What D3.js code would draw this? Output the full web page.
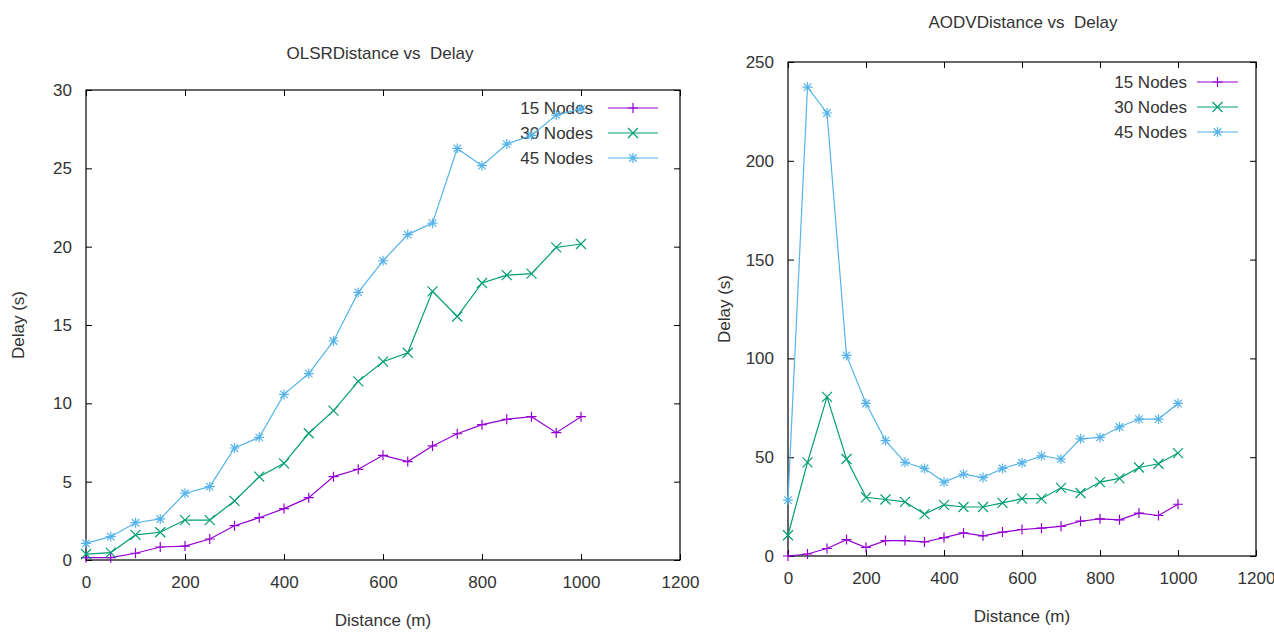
<!DOCTYPE html>
<html>
<head>
<meta charset="utf-8">
<script src="https://cdn.jsdelivr.net/npm/d3@7"></script>
<style>
  body { margin: 0; background: #fff; }
  text { font-family: "Liberation Sans", Arial, sans-serif; fill: #333; white-space: pre; }
</style>
</head>
<body>
<svg width="1274" height="632"></svg>
<script>
var distance = [0, 50, 100, 150, 200, 250, 300, 350, 400, 450, 500, 550, 600, 650, 700, 750, 800, 850, 900, 950, 1000];
var seriesNames = ["15 Nodes", "30 Nodes", "45 Nodes"];
var colors = ["#9400d3", "#009e73", "#56b4e9"];
var symbols = ["plus", "cross", "star"];

var olsr15 = [0.15, 0.15, 0.43, 0.83, 0.89, 1.34, 2.19, 2.7, 3.28, 3.98, 5.32, 5.79, 6.68, 6.28, 7.28, 8.06, 8.64, 8.98, 9.15, 8.13, 9.15];
var olsr30 = [0.38, 0.47, 1.6, 1.77, 2.55, 2.55, 3.77, 5.32, 6.17, 8.09, 9.53, 11.4, 12.66, 13.23, 17.15, 15.54, 17.68, 18.18, 18.28, 19.95, 20.17];
var olsr45 = [1.06, 1.49, 2.38, 2.62, 4.26, 4.68, 7.15, 7.83, 10.57, 11.9, 13.98, 17.08, 19.1, 20.77, 21.5, 26.27, 25.17, 26.55, 27.1, 28.4, 28.8];

var aodv15 = [0, 1, 3.8, 8.3, 4.3, 7.8, 7.8, 7.1, 9.3, 11.7, 10.2, 12.1, 13.4, 14.1, 15, 17.6, 18.8, 18.3, 21.7, 20.5, 26.2];
var aodv30 = [10.5, 47.4, 80.5, 49.1, 29.7, 28.6, 27.4, 21.2, 25.9, 24.8, 24.8, 26.9, 29, 29, 34.5, 31.9, 37.4, 39.3, 44.8, 46.7, 52.1];
var aodv45 = [28.3, 237.3, 224.2, 101.5, 77.2, 58.4, 47.4, 44.3, 37.4, 41.4, 39.7, 44.3, 47.2, 50.7, 49.1, 59.3, 60, 65.3, 69.3, 69.3, 77.2];

var xTicks = [0, 200, 400, 600, 800, 1000, 1200];
var olsrTicks = [0, 5, 10, 15, 20, 25, 30];
var aodvTicks = [0, 50, 100, 150, 200, 250];

var svg = d3.select("svg");

function marker(type, s) {
  if (type == "plus") return "M" + (-s) + ",0H" + s + "M0," + (-s) + "V" + s;
  if (type == "cross") return "M" + (-s) + "," + (-s) + "L" + s + "," + s + "M" + (-s) + "," + s + "L" + s + "," + (-s);
  return "M" + (-s) + ",0H" + s + "M0," + (-s) + "V" + s +
    "M" + (-s * 0.75) + "," + (-s * 0.75) + "L" + (s * 0.75) + "," + (s * 0.75) +
    "M" + (-s * 0.75) + "," + (s * 0.75) + "L" + (s * 0.75) + "," + (-s * 0.75);
}

function drawChart(opt) {
  var x = d3.scaleLinear().domain([0, 1200]).range([opt.left, opt.right]);
  var y = d3.scaleLinear().domain([0, opt.ymax]).range([opt.bottom, opt.top]);
  var g = svg.append("g");

  // title
  g.append("text")
    .attr("x", opt.titleX).attr("y", opt.titleY)
    .attr("text-anchor", "middle")
    .style("font-size", "17px")
    .text(opt.title);

  // axes (gnuplot style: inward ticks, mirrored)
  var bottom = g.append("g").attr("transform", "translate(0," + opt.bottom + ")")
    .call(d3.axisBottom(x).tickValues(xTicks).tickSize(-6).tickPadding(16).tickFormat(d3.format("d")));
  var top = g.append("g").attr("transform", "translate(0," + opt.top + ")")
    .call(d3.axisTop(x).tickValues(xTicks).tickSize(-6).tickFormat(""));
  var left = g.append("g").attr("transform", "translate(" + opt.left + ",0)")
    .call(d3.axisLeft(y).tickValues(opt.yTicks).tickSize(-6).tickPadding(14).tickFormat(d3.format("d")));
  var right = g.append("g").attr("transform", "translate(" + opt.right + ",0)")
    .call(d3.axisRight(y).tickValues(opt.yTicks).tickSize(-6).tickFormat(""));

  [bottom, top, left, right].forEach(function(a) {
    a.select(".domain").remove();
    a.selectAll("line").attr("stroke", "#000");
    a.selectAll("text").style("font-size", "17px").attr("fill", "#333")
      .style("font-family", "'Liberation Sans', Arial, sans-serif");
  });

  g.append("rect")
    .attr("x", opt.left).attr("y", opt.top)
    .attr("width", opt.right - opt.left).attr("height", opt.bottom - opt.top)
    .attr("fill", "none").attr("stroke", "#000").attr("stroke-width", 1.2);

  // axis labels
  g.append("text")
    .attr("x", (opt.left + opt.right) / 2).attr("y", opt.bottom + 66)
    .attr("text-anchor", "middle").style("font-size", "17px")
    .text("Distance (m)");
  g.append("text")
    .attr("transform", "translate(" + opt.yLabelX + "," + (opt.top + opt.bottom) / 2 + ") rotate(-90)")
    .attr("text-anchor", "middle").style("font-size", "17px")
    .text("Delay (s)");

  var line = d3.line()
    .x(function(d) { return x(d[0]); })
    .y(function(d) { return y(d[1]); });

  opt.series.forEach(function(vals, i) {
    var pts = distance.map(function(d, j) { return [d, vals[j]]; });
    g.append("path")
      .attr("d", line(pts))
      .attr("fill", "none")
      .attr("stroke", colors[i])
      .attr("stroke-width", 1.2);
    g.selectAll(".m" + i)
      .data(pts)
      .enter().append("path")
      .attr("class", "m" + i)
      .attr("transform", function(d) { return "translate(" + x(d[0]) + "," + y(d[1]) + ")"; })
      .attr("d", marker(symbols[i], 5))
      .attr("stroke", colors[i])
      .attr("stroke-width", 1.2)
      .attr("fill", "none");

    // legend
    var ly = opt.legendY + i * opt.legendStep;
    g.append("text")
      .attr("x", opt.legendTextX).attr("y", ly)
      .attr("dy", "0.35em")
      .attr("text-anchor", "end")
      .style("font-size", "17px")
      .text(seriesNames[i]);
    g.append("line")
      .attr("x1", opt.legendX1).attr("x2", opt.legendX2)
      .attr("y1", ly).attr("y2", ly)
      .attr("stroke", colors[i]).attr("stroke-width", 1.2);
    g.append("path")
      .attr("transform", "translate(" + (opt.legendX1 + opt.legendX2) / 2 + "," + ly + ")")
      .attr("d", marker(symbols[i], 5))
      .attr("stroke", colors[i]).attr("stroke-width", 1.2).attr("fill", "none");
  });
}

drawChart({
  title: "OLSRDistance vs  Delay", titleX: 380, titleY: 59,
  left: 86, right: 680, top: 90, bottom: 560, ymax: 30, yTicks: olsrTicks,
  yLabelX: 24,
  series: [olsr15, olsr30, olsr45],
  legendY: 108, legendStep: 25, legendTextX: 593, legendX1: 608, legendX2: 658
});

drawChart({
  title: "AODVDistance vs  Delay", titleX: 1023, titleY: 28,
  left: 788, right: 1256, top: 62, bottom: 556, ymax: 250, yTicks: aodvTicks,
  yLabelX: 730,
  series: [aodv15, aodv30, aodv45],
  legendY: 82, legendStep: 25, legendTextX: 1187, legendX1: 1197, legendX2: 1238
});
</script>
</body>
</html>
